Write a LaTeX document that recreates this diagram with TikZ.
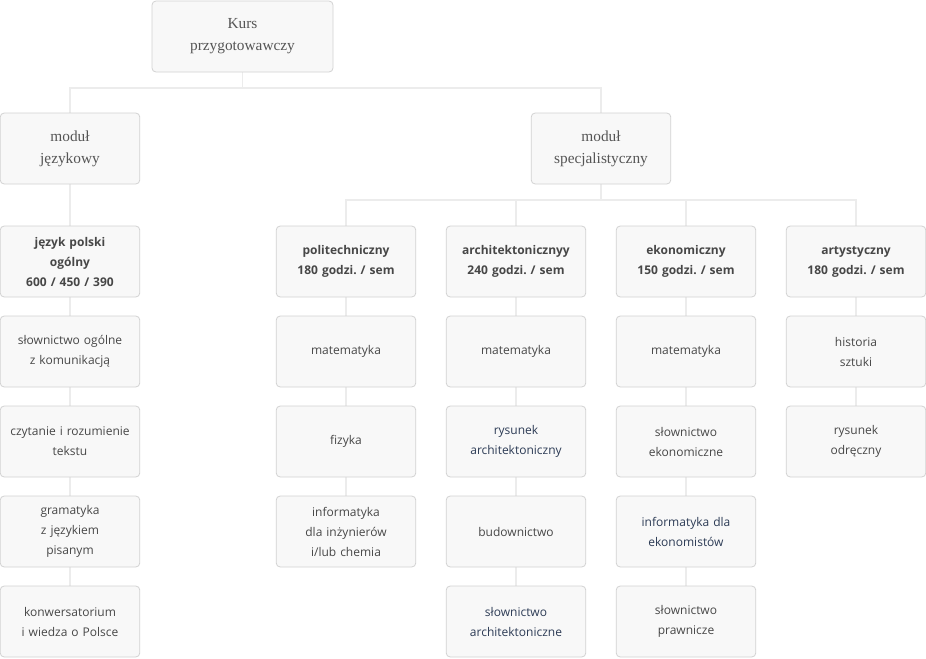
\documentclass[tikz,border=0pt]{standalone}
\usepackage{fontspec}
\setmainfont{Open Sans}
\newfontfamily\headfont{Liberation Serif}
\usetikzlibrary{backgrounds}
\frenchspacing

\begin{document}
\begin{tikzpicture}[x=0.75pt,y=-0.75pt,
  box/.style={draw=boxline,fill=boxfill,rounded corners=3pt,line width=0.6pt,
    minimum width=103.5pt,minimum height=53.25pt,text width=98pt,align=center,
    text=textgray,font=\fontsize{9}{15}\selectfont},
  head/.style={box,text=headgray,font=\headfont\fontsize{11.5}{16.5}\selectfont},
  hours/.style={box,font=\bfseries\fontsize{9}{15}\selectfont},
  link/.style={draw=linegray,line width=1.2pt}]
\definecolor{boxfill}{HTML}{F8F8F8}
\definecolor{boxline}{HTML}{D2D2D2}
\definecolor{linegray}{HTML}{ECECEC}
\definecolor{textgray}{HTML}{474747}
\definecolor{headgray}{HTML}{555555}
\definecolor{navy}{HTML}{2C3B55}
\useasboundingbox (0,0) rectangle (926,658);
\coordinate (busTop) at (0,88);
\coordinate (busLow) at (0,200);
% poziom 1 i 2
\node[head,minimum width=135.75pt] (kurs) at (242.5,36.5) {Kurs\\przygotowawczy};
\node[head] (jezykowy) at (70,148.5) {moduł\\językowy};
\node[head] (specjal) at (601,148.5) {moduł\\specjalistyczny};
% kierunki
\node[hours] (jp) at (70,261.5) {język polski\\ogólny\\600 / 450 / 390};
\foreach \nm/\pos/\txt/\hrs in {poli/346/politechniczny/180,arch/516/architektonicznyy/240,
  eko/686/ekonomiczny/150,art/856/artystyczny/180}
  {  \node[hours] (\nm) at (\pos,261.5) {\txt\\\hrs{} godzi. / sem};}
% przedmioty
\foreach \col/\pos/\r/\clr/\txt in {
  jp/70/1/textgray/{słownictwo ogólne\\z komunikacją},
  jp/70/2/textgray/{czytanie i rozumienie\\tekstu},
  jp/70/3/textgray/{gramatyka\\z językiem\\pisanym},
  jp/70/4/textgray/{konwersatorium\\i wiedza o Polsce},
  poli/346/1/textgray/{matematyka},
  poli/346/2/textgray/{fizyka},
  poli/346/3/textgray/{informatyka\\dla inżynierów\\i/lub chemia},
  arch/516/1/textgray/{matematyka},
  arch/516/2/navy/{rysunek\\architektoniczny},
  arch/516/3/textgray/{budownictwo},
  arch/516/4/navy/{słownictwo\\architektoniczne},
  eko/686/1/textgray/{matematyka},
  eko/686/2/textgray/{słownictwo\\ekonomiczne},
  eko/686/3/navy/{informatyka dla\\ekonomistów},
  eko/686/4/textgray/{słownictwo\\prawnicze},
  art/856/1/textgray/{historia\\sztuki},
  art/856/2/textgray/{rysunek\\odręczny}}
  {  \node[box,text=\clr] (\col\r) at (\pos,{261.5+90*\r}) {\txt};}
% polaczenia
\begin{scope}[on background layer]
  \draw[link] (kurs.south) -- (kurs.south |- busTop) -| (jezykowy.north);
  \draw[link] (kurs.south) -- (kurs.south |- busTop) -| (specjal.north);
  \draw[link] (jezykowy) -- (jp);
  \foreach \col in {poli,arch,eko,art}
  {  \draw[link] (specjal.south) -- (specjal.south |- busLow) -| (\col.north);}
  \foreach \col/\n in {jp/4,poli/3,arch/4,eko/4,art/2}
  {  \draw[link] (\col) -- (\col\n);}
\end{scope}
\end{tikzpicture}
\end{document}
